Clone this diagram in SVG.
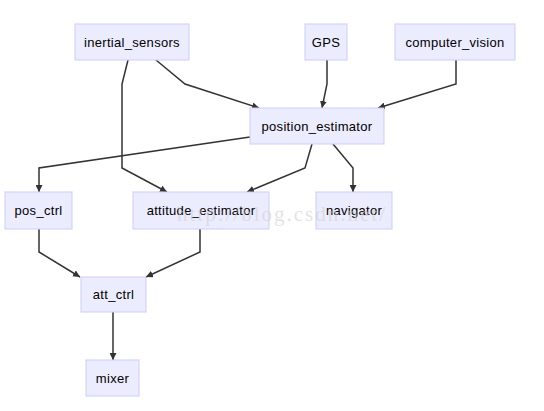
<svg xmlns="http://www.w3.org/2000/svg" width="544" height="411" viewBox="0 0 544 411">
<defs>
<style>
.node rect{fill:#ececff;stroke:#ccccff;stroke-width:1}
.node text{font-family:"Liberation Sans",Arial,sans-serif;font-size:13px;fill:#000;text-anchor:middle;dominant-baseline:central;letter-spacing:0.3px}
.edges path{fill:none;stroke:#333;stroke-width:1.5;marker-end:url(#arr)}
.wm{font-family:"Liberation Serif",serif;font-size:21px;fill:#cfcfcf;opacity:0.55}
</style>
<marker id="arr" viewBox="0 0 10 10" refX="10" refY="5" markerWidth="7" markerHeight="7" markerUnits="userSpaceOnUse" orient="auto">
<path d="M0,0 L10,5 L0,10 z" fill="#333"/>
</marker>
</defs>
<rect width="544" height="411" fill="#fff"/>
<g class="edges">
<path d="M156,60 L185,84 L259,108"/>
<path d="M128,60 L122,84 L122,168 L167,192"/>
<path d="M327,60 L327,84 L322,108"/>
<path d="M456,60 L456,84 L378,108"/>
<path d="M250,137 L39,168 L39,192"/>
<path d="M312,144 L305,168 L247,192"/>
<path d="M333,144 L353,168 L353,192"/>
<path d="M39,229 L39,252 L80,277"/>
<path d="M200,229 L200,252 L146,277"/>
<path d="M113,312 L113,360"/>
</g>
<g id="inertial_sensors" class="node"><rect x="75" y="24" width="114" height="36"/><text x="132" y="42">inertial_sensors</text></g>
<g id="GPS" class="node"><rect x="305" y="24" width="42" height="36"/><text x="326" y="42">GPS</text></g>
<g id="computer_vision" class="node"><rect x="395" y="24" width="120" height="36"/><text x="455" y="42">computer_vision</text></g>
<g id="position_estimator" class="node"><rect x="250" y="108" width="134" height="36"/><text x="317" y="126">position_estimator</text></g>
<g id="pos_ctrl" class="node"><rect x="5" y="192" width="67" height="37"/><text x="38.5" y="210.5">pos_ctrl</text></g>
<g id="attitude_estimator" class="node"><rect x="133" y="192" width="136" height="37"/><text x="201" y="210.5">attitude_estimator</text></g>
<g id="navigator" class="node"><rect x="316" y="192" width="76" height="37"/><text x="354" y="210.5">navigator</text></g>
<g id="att_ctrl" class="node"><rect x="81" y="277" width="65" height="35"/><text x="113.5" y="294.5">att_ctrl</text></g>
<g id="mixer" class="node"><rect x="86" y="360" width="53" height="36"/><text x="112.5" y="378">mixer</text></g>
<text class="wm" x="177" y="221" textLength="208" lengthAdjust="spacing">http://blog.csdn.net/</text>
</svg>
